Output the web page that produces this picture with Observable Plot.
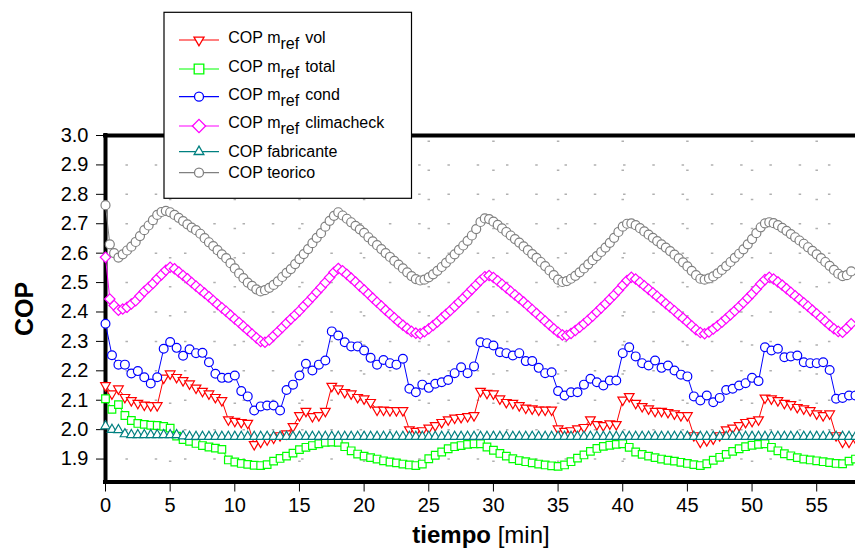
<!DOCTYPE html>
<html><head><meta charset="utf-8">
<script src="https://cdn.jsdelivr.net/npm/d3@7"></script>
<script src="https://cdn.jsdelivr.net/npm/@observablehq/plot@0.6"></script>
<style>
html,body{margin:0;padding:0;background:#fff;overflow:hidden}
#chart{position:relative;width:855px;height:550px}
</style></head><body><div id="chart"></div>
<script>
// ---------- data ----------
const dtFast = 1 / 3;   // min between samples (teorico, climacheck)
const dtSlow = 0.5;     // min between samples (vol, total, cond, fabricante)

const xTicks = [0, 5, 10, 15, 20, 25, 30, 35, 40, 45, 50, 55];
const yTicks = [1.9, 2.0, 2.1, 2.2, 2.3, 2.4, 2.5, 2.6, 2.7, 2.8, 2.9, 3.0];
const yMin = 1.822, yMax = 3.0, xMax = 58;

const copTeorico = [
2.763,2.630,2.600,2.585,2.596,2.609,2.622,2.638,2.658,2.678,
2.694,2.712,2.730,2.740,2.744,2.739,2.730,2.720,2.709,2.698,
2.687,2.678,2.666,2.651,2.637,2.624,2.610,2.596,2.583,2.566,
2.548,2.531,2.515,2.500,2.489,2.477,2.470,2.474,2.482,2.492,
2.504,2.519,2.533,2.546,2.563,2.580,2.597,2.614,2.634,2.652,
2.668,2.690,2.710,2.727,2.739,2.728,2.717,2.705,2.693,2.681,
2.669,2.654,2.640,2.627,2.614,2.600,2.587,2.574,2.561,2.548,
2.535,2.522,2.512,2.507,2.510,2.518,2.528,2.540,2.553,2.567,
2.581,2.596,2.611,2.626,2.642,2.660,2.682,2.706,2.718,2.716,
2.707,2.696,2.684,2.672,2.660,2.648,2.636,2.623,2.610,2.597,
2.584,2.570,2.556,2.541,2.525,2.510,2.502,2.505,2.513,2.523,
2.535,2.548,2.562,2.576,2.590,2.604,2.619,2.635,2.652,2.672,
2.690,2.700,2.701,2.695,2.685,2.674,2.663,2.652,2.641,2.630,
2.619,2.607,2.595,2.582,2.569,2.555,2.540,2.525,2.513,2.510,
2.514,2.521,2.531,2.543,2.556,2.570,2.584,2.598,2.613,2.630,
2.648,2.668,2.688,2.701,2.705,2.702,2.695,2.686,2.676,2.665,
2.654,2.643,2.632,2.620,2.608,2.596,2.583,2.570,2.557,2.543,
2.530,2.522,2.525,2.538];

const copClimacheck = [
2.586,2.444,2.422,2.406,2.410,2.416,2.427,2.438,2.454,2.470,
2.483,2.497,2.513,2.527,2.542,2.552,2.547,2.536,2.524,2.513,
2.500,2.488,2.476,2.464,2.452,2.439,2.426,2.414,2.402,2.389,
2.376,2.364,2.351,2.338,2.325,2.312,2.300,2.297,2.305,2.319,
2.333,2.347,2.362,2.376,2.390,2.404,2.420,2.435,2.451,2.467,
2.483,2.500,2.517,2.535,2.548,2.540,2.528,2.515,2.502,2.488,
2.475,2.461,2.447,2.433,2.420,2.406,2.393,2.380,2.367,2.355,
2.344,2.334,2.328,2.326,2.333,2.343,2.354,2.366,2.379,2.392,
2.405,2.419,2.433,2.447,2.462,2.477,2.492,2.507,2.520,2.524,
2.517,2.506,2.494,2.482,2.470,2.458,2.446,2.434,2.421,2.408,
2.395,2.382,2.369,2.356,2.343,2.331,2.322,2.320,2.327,2.337,
2.348,2.360,2.373,2.386,2.400,2.414,2.428,2.443,2.458,2.474,
2.491,2.507,2.518,2.512,2.501,2.489,2.477,2.465,2.453,2.441,
2.428,2.416,2.404,2.391,2.379,2.366,2.353,2.340,2.330,2.326,
2.332,2.342,2.353,2.365,2.378,2.391,2.404,2.418,2.432,2.447,
2.462,2.478,2.495,2.510,2.518,2.512,2.502,2.491,2.479,2.467,
2.455,2.443,2.431,2.419,2.406,2.394,2.381,2.368,2.355,2.343,
2.334,2.331,2.345,2.360];

const copCond = [
2.360,2.253,2.221,2.221,2.191,2.199,2.178,2.157,2.178,2.275,
2.298,2.278,2.251,2.273,2.260,2.261,2.229,2.190,2.176,2.176,
2.184,2.131,2.113,2.065,2.079,2.082,2.082,2.065,2.135,2.153,
2.184,2.224,2.201,2.221,2.235,2.334,2.320,2.297,2.283,2.283,
2.269,2.244,2.221,2.237,2.226,2.221,2.241,2.139,2.127,2.153,
2.142,2.156,2.161,2.169,2.192,2.212,2.192,2.215,2.297,2.294,
2.286,2.263,2.260,2.252,2.260,2.233,2.233,2.210,2.192,2.195,
2.131,2.116,2.127,2.127,2.153,2.173,2.161,2.150,2.167,2.167,
2.260,2.280,2.249,2.226,2.218,2.235,2.210,2.218,2.201,2.187,
2.181,2.113,2.099,2.116,2.093,2.108,2.135,2.139,2.150,2.158,
2.176,2.165,2.280,2.269,2.275,2.246,2.249,2.252,2.229,2.226,
2.226,2.229,2.203,2.105,2.108,2.116,2.116];

const copVol = [
2.150,2.122,2.139,2.110,2.099,2.090,2.084,2.082,2.082,2.176,
2.190,2.178,2.167,2.156,2.142,2.131,2.122,2.110,2.099,2.034,
2.029,2.025,2.022,1.950,1.958,1.966,1.972,1.980,1.986,2.011,
2.048,2.063,2.045,2.048,2.063,2.148,2.139,2.127,2.122,2.110,
2.105,2.093,2.067,2.067,2.065,2.065,2.065,2.000,1.995,1.997,
2.006,2.014,2.025,2.034,2.040,2.042,2.045,2.048,2.131,2.124,
2.122,2.105,2.093,2.090,2.082,2.074,2.071,2.067,2.067,2.067,
2.003,1.995,1.997,2.003,2.008,2.034,2.018,2.014,2.020,2.018,
2.101,2.113,2.090,2.079,2.071,2.063,2.063,2.059,2.054,2.048,
2.048,1.980,1.958,1.963,1.969,1.980,2.000,2.006,2.014,2.025,
2.029,2.034,2.108,2.105,2.099,2.090,2.086,2.076,2.071,2.065,
2.054,2.048,2.054,1.980,1.958,1.958,1.970];

const copTotal = [
2.105,2.069,2.085,2.048,2.031,2.021,2.018,2.015,2.014,2.011,
2.005,1.978,1.966,1.960,1.953,1.946,1.941,1.937,1.933,1.897,
1.890,1.885,1.882,1.879,1.878,1.881,1.893,1.902,1.910,1.920,
1.932,1.940,1.946,1.952,1.957,1.958,1.957,1.942,1.928,1.917,
1.910,1.905,1.900,1.894,1.890,1.887,1.883,1.880,1.878,1.883,
1.901,1.913,1.924,1.935,1.942,1.946,1.950,1.952,1.952,1.941,
1.930,1.919,1.910,1.901,1.895,1.891,1.887,1.883,1.880,1.877,
1.875,1.880,1.891,1.903,1.914,1.926,1.936,1.943,1.947,1.950,
1.952,1.940,1.924,1.916,1.910,1.905,1.900,1.896,1.893,1.889,
1.885,1.881,1.878,1.884,1.896,1.906,1.916,1.926,1.935,1.942,
1.947,1.950,1.952,1.940,1.928,1.918,1.911,1.905,1.900,1.897,
1.894,1.891,1.888,1.885,1.884,1.893,1.900];

const copFabricante = [
2.012,2.000,1.999,1.985,1.982,1.982,1.982,1.982,1.982,1.982,
1.982,1.982,1.978,1.976,1.976,1.976,1.976,1.976,1.976,1.976,
1.976,1.976,1.976,1.976,1.976,1.976,1.976,1.976,1.976,1.976,
1.976,1.976,1.976,1.976,1.976,1.976,1.976,1.976,1.976,1.976,
1.976,1.976,1.976,1.976,1.976,1.976,1.976,1.976,1.976,1.976,
1.976,1.976,1.976,1.976,1.976,1.976,1.976,1.976,1.976,1.976,
1.976,1.976,1.976,1.976,1.976,1.976,1.976,1.976,1.976,1.976,
1.976,1.976,1.976,1.976,1.976,1.976,1.976,1.976,1.976,1.976,
1.976,1.976,1.976,1.976,1.976,1.976,1.976,1.976,1.976,1.976,
1.976,1.976,1.976,1.976,1.976,1.976,1.976,1.976,1.976,1.976,
1.976,1.976,1.976,1.976,1.976,1.976,1.976,1.976,1.976,1.976,
1.976,1.976,1.976,1.976,1.976,1.976,1.976];

const legendMain = ["COP m", "COP m", "COP m", "COP m", "COP fabricante", "COP teorico"];
const legendSub  = ["ref", "ref", "ref", "ref", "", ""];
const legendTail = ["vol", "total", "cond", "climacheck", "", ""];

// ---------- marker symbols ----------
const rOf = size => Math.sqrt(size / Math.PI);
const S3 = Math.sqrt(3);
const triUp = {draw(c, s){ const R = rOf(s); c.moveTo(0, -R); c.lineTo(R*S3/2, R/2); c.lineTo(-R*S3/2, R/2); c.closePath(); }};
const triDown = {draw(c, s){ const R = rOf(s); c.moveTo(0, R); c.lineTo(-R*S3/2, -R/2); c.lineTo(R*S3/2, -R/2); c.closePath(); }};
const square = {draw(c, s){ const R = rOf(s); c.moveTo(-R, -R); c.lineTo(R, -R); c.lineTo(R, R); c.lineTo(-R, R); c.closePath(); }};
const diamond = {draw(c, s){ const R = rOf(s); c.moveTo(0, -R); c.lineTo(R, 0); c.lineTo(0, R); c.lineTo(-R, 0); c.closePath(); }};
const circle = {draw(c, s){ const R = rOf(s); c.moveTo(R, 0); c.arc(0, 0, R, 0, 2 * Math.PI); c.closePath(); }};

const series = [
  {values: copVol,        dt: dtSlow, color: "#ff0000", symbol: triDown, r: 5.6, lr: 5.8},
  {values: copTotal,      dt: dtSlow, color: "#00ff00", symbol: square,  r: 3.8, lr: 4.8},
  {values: copCond,       dt: dtSlow, color: "#0000ff", symbol: circle,  r: 4.4, lr: 4.5},
  {values: copClimacheck, dt: dtFast, color: "#ff00ff", symbol: diamond, r: 5.2, lr: 6.6},
  {values: copFabricante, dt: dtSlow, color: "#008080", symbol: triUp,   r: 5.4, lr: 5.6},
  {values: copTeorico,    dt: dtFast, color: "#808080", symbol: circle,  r: 4.5, lr: 4.5}
].map(s => ({...s, data: s.values.map((v, i) => ({t: i * s.dt, v}))}));

const seriesMarks = series.flatMap(s => [
  Plot.line(s.data, {x: "t", y: "v", stroke: s.color, strokeWidth: 1}),
  Plot.dot(s.data, {x: "t", y: "v", symbol: s.symbol, r: s.r, stroke: s.color, fill: "white", strokeWidth: 1.2})
]);

const svg = Plot.plot({
  width: 855, height: 550,
  marginLeft: 105, marginRight: 0, marginTop: 135, marginBottom: 68.5,
  style: {fontFamily: "'Liberation Sans', Arial, sans-serif", fontSize: "20px", color: "black", background: "white"},
  x: {domain: [0, xMax], ticks: xTicks, tickSize: 10, tickPadding: 6, tickFormat: d => String(d), label: null},
  y: {domain: [yMin, yMax], ticks: yTicks, tickSize: 9, tickPadding: 8, tickFormat: d3.format(".1f"), label: null},
  marks: [
    Plot.ruleY(yTicks.filter(v => v < yMax), {stroke: "#b0b0b0", strokeWidth: 1.5, strokeDasharray: "2.5,26.77", strokeDashoffset: 8.82}),
    Plot.ruleX(xTicks.filter(v => v > 0), {stroke: "#b0b0b0", strokeWidth: 2.5, strokeDasharray: "1.5,27.6", strokeDashoffset: 23.6}),
    Plot.ruleX([0], {stroke: "black", strokeWidth: 4, strokeLinecap: "square"}),
    Plot.ruleY([yMin, yMax], {stroke: "black", strokeWidth: 4, strokeLinecap: "square"}),
    ...seriesMarks
  ]
});

const root = d3.select(svg);
const FONT = "'Liberation Sans', Arial, sans-serif";

// axis titles
root.append("text")
  .attr("transform", "translate(33,309) rotate(-90)")
  .attr("text-anchor", "middle").attr("font-family", FONT)
  .attr("font-size", 25).attr("font-weight", "bold").attr("fill", "black")
  .text("COP");
const xt = root.append("text")
  .attr("x", 481).attr("y", 543).attr("text-anchor", "middle")
  .attr("font-family", FONT).attr("font-size", 24).attr("fill", "black")
  .style("white-space", "pre");
xt.append("tspan").attr("font-weight", "bold").text("tiempo");
xt.append("tspan").text(" [min]");

// legend
const lg = root.append("g").attr("font-family", FONT).attr("font-size", 16)
  .attr("fill", "black").attr("text-anchor", "start");
lg.append("rect").attr("x", 164).attr("y", 12.3).attr("width", 247.5).attr("height", 186)
  .attr("fill", "white").attr("stroke", "black").attr("stroke-width", 1.2);
const rowY = [40, 69, 96.7, 126, 151.7, 172.7];
const baseY = [43.3, 72.3, 100, 128.3, 156.7, 178.3];
series.forEach((s, i) => {
  lg.append("line").attr("x1", 179).attr("x2", 219).attr("y1", rowY[i]).attr("y2", rowY[i])
    .attr("stroke", s.color).attr("stroke-width", 1.2);
  lg.append("path").attr("transform", `translate(199,${rowY[i]})`)
    .attr("d", d3.symbol(s.symbol, Math.PI * s.lr * s.lr)())
    .attr("fill", "white").attr("stroke", s.color).attr("stroke-width", 1.3);
  const t = lg.append("text").attr("x", 228.3).attr("y", baseY[i])
    .attr("text-anchor", "start").style("white-space", "pre");
  t.append("tspan").text(legendMain[i]);
  if (legendSub[i]) {
    t.append("tspan").attr("dy", 6).text(legendSub[i]);
    t.append("tspan").attr("dy", -6).attr("dx", 6).text(legendTail[i]);
  }
});

document.getElementById("chart").appendChild(svg);
</script></body></html>
